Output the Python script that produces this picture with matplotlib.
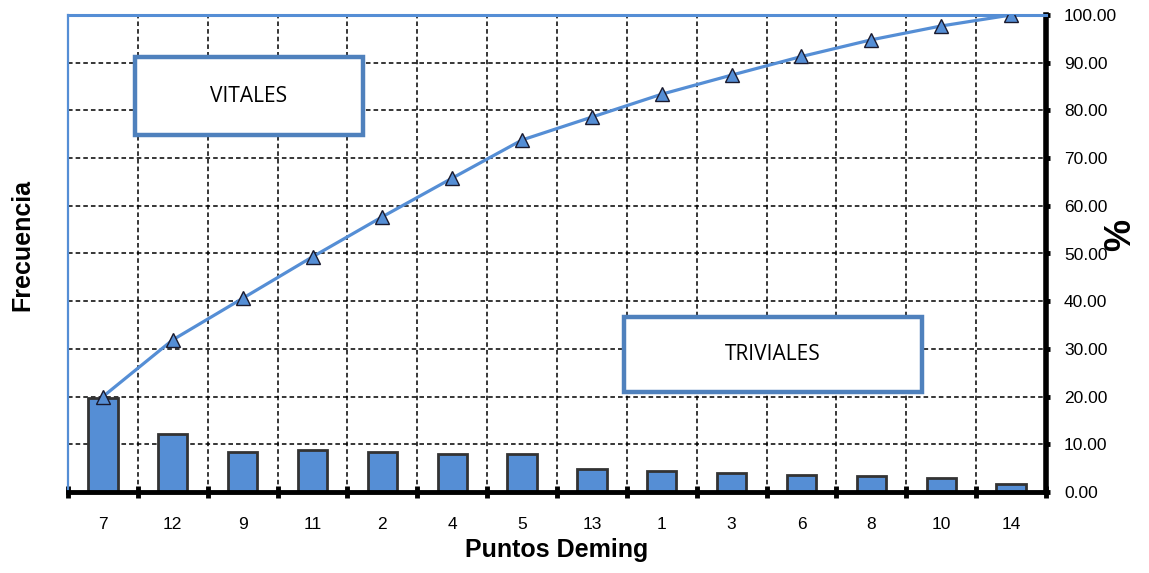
import matplotlib
matplotlib.use("Agg")
import matplotlib.pyplot as plt
from matplotlib.patches import Rectangle
from matplotlib.ticker import FixedLocator, FormatStrFormatter

plt.rcParams['font.family'] = ['Liberation Sans Narrow', 'Liberation Sans', 'DejaVu Sans']

categories = ['7', '12', '9', '11', '2', '4', '5', '13', '1', '3', '6', '8', '10', '14']
frecuencia_pct = [19.8, 12.2, 8.3, 8.8, 8.3, 8.0, 8.0, 4.8, 4.5, 4.0, 3.6, 3.4, 2.9, 1.7]
acumulado_pct = [20.0, 31.9, 40.6, 49.3, 57.7, 65.8, 73.8, 78.6, 83.4, 87.4, 91.3, 94.8, 97.7, 100.0]
y_ticks = [0, 10, 20, 30, 40, 50, 60, 70, 80, 90, 100]

blue = '#558ED5'
box_blue = '#4F81BD'

fig = plt.figure(figsize=(11.49, 5.73), dpi=100)
ax = fig.add_axes([68/1149, 1-492/573, (1046-68)/1149, (492-15)/573])

x = list(range(len(categories)))
ax.bar(x, frecuencia_pct, width=0.42, color=blue, edgecolor='#333333', linewidth=2.0, zorder=3)
ax.plot(x, acumulado_pct, color=blue, linewidth=2.3, zorder=4)
ax.plot(x, acumulado_pct, linestyle='none', marker='^', markersize=10,
        markerfacecolor=blue, markeredgecolor='#1a1a2e', markeredgewidth=1.0, zorder=5)

ax.set_xlim(-0.5, len(categories) - 0.5)
ax.set_ylim(0, 100)

ax.set_xticks(x)
ax.set_xticklabels(categories)
ax.xaxis.set_minor_locator(FixedLocator([i - 0.5 for i in range(len(categories) + 1)]))
ax.tick_params(axis='x', which='major', length=0, pad=18, labelsize=12.5)
ax.tick_params(axis='x', which='minor', direction='inout', length=8, width=3.5, color='black')

ax.yaxis.tick_right()
ax.set_yticks(y_ticks)
ax.yaxis.set_major_formatter(FormatStrFormatter('%.2f'))
ax.tick_params(axis='y', which='major', direction='out', length=3, width=3.5, pad=10, labelsize=12.5, color='black')

ax.grid(True, axis='x', which='minor', color='black', linestyle=(0, (3, 2)), linewidth=1.1, zorder=1)
ax.grid(True, axis='y', which='major', color='black', linestyle=(0, (3, 2)), linewidth=1.1, zorder=1)
ax.grid(False, axis='x', which='major')
ax.set_axisbelow(True)

ax.spines['top'].set_color(blue)
ax.spines['top'].set_linewidth(2.2)
ax.spines['left'].set_color(blue)
ax.spines['left'].set_linewidth(1.6)
ax.spines['bottom'].set_color('black')
ax.spines['bottom'].set_linewidth(3.5)
ax.spines['right'].set_color('black')
ax.spines['right'].set_linewidth(4.0)
ax.spines['bottom'].set_zorder(6)

ax.set_xlabel('Puntos Deming', fontsize=18, fontweight='bold', family=['Liberation Sans', 'DejaVu Sans'], labelpad=4)
fig.text(1121/1149, 1-235/573, '%', rotation=90, ha='center', va='center',
         fontsize=26, fontweight='bold', family=['Liberation Sans', 'DejaVu Sans'])
fig.text(22/1149, 1-245/573, 'Frecuencia', rotation=90, ha='center', va='center',
         fontsize=18, fontweight='bold', family=['Liberation Sans', 'DejaVu Sans'])

def label_box(x0, x1, y0, y1, text):
    r = Rectangle((x0, y0), x1 - x0, y1 - y0, transform=ax.transAxes, facecolor='white',
                  edgecolor=box_blue, linewidth=3.2, zorder=7)
    ax.add_patch(r)
    ax.text((x0 + x1) / 2, (y0 + y1) / 2, text, transform=ax.transAxes, ha='center', va='center',
            fontsize=15, family=['Open Sans', 'DejaVu Sans'], zorder=8)

label_box((135-68)/978, (363-68)/978, (492-135)/477, (492-57)/477, 'VITALES')
label_box((624-68)/978, (922-68)/978, (492-392)/477, (492-317)/477, 'TRIVIALES')

fig.savefig('out.png', dpi=100)
